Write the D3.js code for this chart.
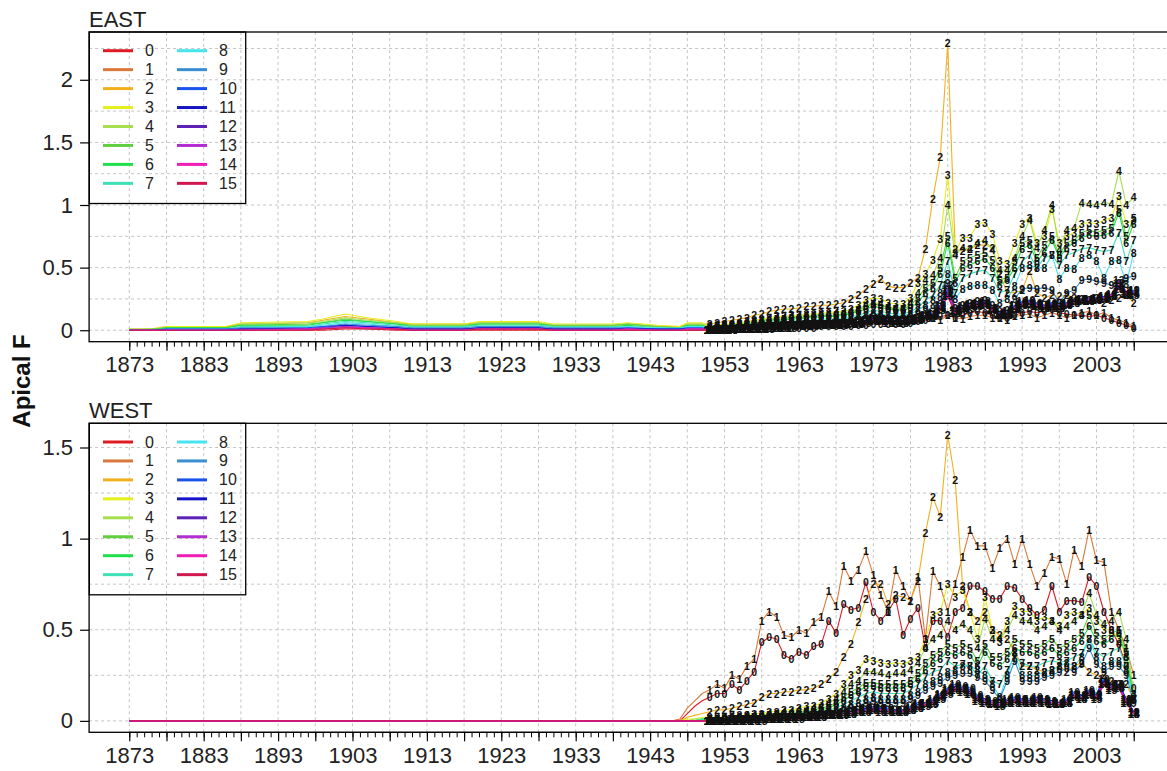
<!DOCTYPE html>
<html><head><meta charset="utf-8">
<script src="https://cdn.jsdelivr.net/npm/d3@7"></script>
<style>
body{margin:0;background:#fff}
svg{display:block}
text{font-family:"Liberation Sans",Arial,sans-serif}
</style>
</head><body>
<svg id="chart" width="1167" height="771"></svg>
<script>
const ages = ["0","1","2","3","4","5","6","7","8","9","10","11","12","13","14","15"];
const seriesColors = ["#e01a22","#d9783a","#f2b01e","#e4ef1c","#a6df4e","#62cf40","#1fe04a","#3ee0b6",
                      "#44e4f0","#3a8fd2","#1a52ee","#1414c6","#5e22b6","#b22ed2","#f01cb6","#d0184e"];
const xTickLabels = [1873,1883,1893,1903,1913,1923,1933,1943,1953,1963,1973,1983,1993,2003];
const eastYTicks = [0,0.5,1,1.5,2];
const westYTicks = [0,0.5,1,1.5];

const eastEarlyYears = [1873,1876,1878,1886,1888,1897,1899,1902,1905,1909,1911,1918,1920,1928,1930,1938,1940,1944,1947,1948,1950];
const eastEarly = [
 [0,0,0,0,0,0,0,0.01,0.01,0,0,0,0,0,0,0,0,0,0,0,0],
 [0,0,0,0,0.01,0.01,0.01,0.02,0.02,0.01,0.01,0.01,0.01,0.01,0.01,0.01,0.01,0.01,0,0.01,0.01],
 [0.01,0.01,0.03,0.03,0.05,0.06,0.08,0.11,0.09,0.06,0.05,0.05,0.06,0.06,0.04,0.04,0.05,0.03,0.03,0.05,0.05],
 [0.01,0.01,0.03,0.03,0.06,0.07,0.09,0.13,0.1,0.07,0.05,0.05,0.07,0.07,0.05,0.05,0.06,0.04,0.03,0.06,0.06],
 [0.01,0.01,0.02,0.02,0.05,0.06,0.07,0.1,0.08,0.06,0.04,0.04,0.06,0.06,0.04,0.04,0.05,0.03,0.02,0.05,0.05],
 [0,0.01,0.02,0.02,0.04,0.05,0.06,0.09,0.07,0.05,0.04,0.04,0.05,0.05,0.04,0.04,0.05,0.03,0.02,0.04,0.04],
 [0,0,0.02,0.02,0.04,0.04,0.06,0.08,0.07,0.05,0.03,0.03,0.05,0.05,0.03,0.03,0.04,0.02,0.02,0.04,0.04],
 [0,0,0.01,0.01,0.03,0.03,0.05,0.07,0.06,0.04,0.03,0.03,0.04,0.04,0.03,0.03,0.03,0.02,0.02,0.03,0.03],
 [0,0,0.01,0.01,0.02,0.03,0.04,0.06,0.05,0.03,0.02,0.02,0.03,0.03,0.02,0.02,0.03,0.02,0.01,0.03,0.03],
 [0,0,0.01,0.01,0.02,0.02,0.03,0.05,0.04,0.03,0.02,0.02,0.03,0.03,0.02,0.02,0.02,0.01,0.01,0.02,0.02],
 [0,0,0.01,0.01,0.01,0.02,0.03,0.04,0.03,0.02,0.01,0.01,0.02,0.02,0.01,0.01,0.02,0.01,0.01,0.02,0.02],
 [0,0,0,0,0.01,0.01,0.02,0.04,0.03,0.02,0.01,0.01,0.02,0.02,0.01,0.01,0.01,0.01,0.01,0.01,0.01],
 [0,0,0,0,0.01,0.01,0.02,0.03,0.02,0.01,0.01,0.01,0.01,0.01,0.01,0.01,0.01,0,0,0.01,0.01],
 [0,0,0,0,0,0.01,0.02,0.03,0.02,0.01,0,0,0.01,0.01,0,0,0.01,0,0,0.01,0.01],
 [0,0,0,0,0,0.01,0.01,0.02,0.02,0.01,0,0,0.01,0.01,0,0,0.01,0,0,0.01,0.01],
 [0,0,0,0,0,0,0.01,0.02,0.01,0.01,0,0,0.01,0.01,0,0,0,0,0,0,0]
];

const westEarlyYears = [1873,1946,1947,1948,1949,1950];
const westEarly = [
 [0,0,0,0.04,0.08,0.11],
 [0,0,0.01,0.07,0.11,0.15],
 [0,0,0,0.02,0.03,0.04],
 [0,0,0,0.01,0.01,0.02],
 [0,0,0,0,0.01,0.01],
 [0,0,0,0,0,0.01],
 [0,0,0,0,0,0.01],
 [0,0,0,0,0,0.01],
 [0,0,0,0,0,0],
 [0,0,0,0,0,0],
 [0,0,0,0,0,0],
 [0,0,0,0,0,0],
 [0,0,0,0,0,0],
 [0,0,0,0,0,0],
 [0,0,0,0,0,0],
 [0,0,0,0,0,0]
];

const lateYears = d3.range(1951, 2009);

const eastLate = [
 [0.0,0.0,0.01,0.01,0.01,0.01,0.01,0.01,0.02,0.02, 0.02,0.02,0.02,0.02,0.02,0.03,0.03,0.03,0.03,0.03, 0.04,0.04,0.05,0.05,0.05,0.05,0.05,0.06,0.07,0.08, 0.1,0.11,0.12,0.1,0.12,0.14,0.15,0.14,0.12,0.1, 0.1,0.12,0.14,0.15,0.14,0.15,0.17,0.14,0.13,0.12, 0.12,0.11,0.12,0.1,0.08,0.06,0.04,0.02],
 [0.01,0.01,0.02,0.02,0.02,0.03,0.03,0.03,0.04,0.04, 0.04,0.05,0.05,0.05,0.05,0.06,0.06,0.06,0.06,0.07, 0.07,0.08,0.09,0.09,0.08,0.08,0.08,0.09,0.1,0.12, 0.1,0.08,0.12,0.1,0.09,0.11,0.12,0.12,0.1,0.1, 0.08,0.11,0.12,0.13,0.1,0.12,0.14,0.12,0.1,0.12, 0.14,0.15,0.12,0.14,0.1,0.08,0.06,0.03],
 [0.05,0.06,0.07,0.08,0.09,0.1,0.12,0.13,0.15,0.16, 0.17,0.17,0.18,0.19,0.19,0.2,0.2,0.21,0.22,0.25, 0.28,0.33,0.37,0.41,0.35,0.34,0.34,0.38,0.42,0.65, 1.05,1.38,2.29,0.65,0.63,0.65,0.68,0.68,0.66,0.45, 0.3,0.3,0.32,0.47,0.3,0.26,0.28,0.27,0.28,0.26, 0.25,0.24,0.26,0.22,0.24,0.26,0.28,0.22],
 [0.03,0.04,0.05,0.05,0.06,0.07,0.08,0.09,0.1,0.11, 0.11,0.12,0.12,0.13,0.13,0.14,0.14,0.15,0.15,0.17, 0.2,0.24,0.26,0.25,0.22,0.21,0.21,0.26,0.38,0.45, 0.56,0.73,1.24,0.62,0.74,0.74,0.85,0.86,0.77,0.55, 0.53,0.7,0.85,0.9,0.7,0.75,0.97,0.7,0.75,0.78, 0.85,0.86,0.85,0.88,0.9,1.07,0.85,0.88],
 [0.03,0.04,0.04,0.05,0.05,0.06,0.07,0.08,0.09,0.1, 0.1,0.11,0.11,0.12,0.12,0.13,0.13,0.14,0.14,0.15, 0.17,0.2,0.22,0.21,0.19,0.18,0.18,0.22,0.3,0.4, 0.44,0.58,1.0,0.6,0.66,0.65,0.7,0.72,0.64,0.48, 0.48,0.58,0.75,0.88,0.66,0.8,1.0,0.64,0.8,0.82, 1.02,1.01,1.0,1.02,1.01,1.27,1.0,1.06],
 [0.02,0.03,0.04,0.04,0.05,0.05,0.06,0.07,0.08,0.09, 0.09,0.1,0.1,0.11,0.11,0.12,0.12,0.12,0.13,0.14, 0.16,0.19,0.21,0.2,0.18,0.17,0.17,0.2,0.26,0.34, 0.38,0.5,0.75,0.42,0.55,0.58,0.6,0.62,0.56,0.4, 0.42,0.55,0.7,0.72,0.58,0.68,0.75,0.6,0.7,0.72, 0.78,0.8,0.78,0.8,0.82,0.97,0.75,0.9],
 [0.02,0.03,0.03,0.04,0.04,0.05,0.06,0.06,0.07,0.08, 0.08,0.09,0.09,0.1,0.1,0.11,0.11,0.11,0.12,0.13, 0.15,0.17,0.19,0.18,0.17,0.16,0.16,0.18,0.22,0.3, 0.34,0.45,0.7,0.38,0.5,0.52,0.55,0.57,0.5,0.36, 0.4,0.5,0.65,0.68,0.55,0.62,0.72,0.58,0.66,0.7, 0.74,0.76,0.75,0.76,0.78,0.94,0.7,0.85],
 [0.02,0.02,0.03,0.03,0.04,0.04,0.05,0.05,0.06,0.07, 0.07,0.07,0.08,0.08,0.08,0.09,0.09,0.09,0.1,0.11, 0.12,0.14,0.16,0.15,0.14,0.13,0.13,0.15,0.18,0.24, 0.28,0.36,0.55,0.3,0.42,0.45,0.47,0.48,0.42,0.3, 0.32,0.45,0.55,0.6,0.5,0.58,0.6,0.52,0.6,0.62, 0.65,0.66,0.64,0.63,0.64,0.78,0.55,0.72],
 [0.01,0.02,0.02,0.03,0.03,0.04,0.04,0.05,0.05,0.06, 0.06,0.06,0.07,0.07,0.07,0.08,0.08,0.08,0.09,0.1, 0.11,0.12,0.14,0.13,0.12,0.12,0.12,0.13,0.16,0.2, 0.24,0.3,0.45,0.25,0.33,0.35,0.36,0.36,0.32,0.22, 0.25,0.35,0.5,0.52,0.5,0.5,0.6,0.41,0.5,0.49, 0.58,0.6,0.55,0.42,0.55,0.56,0.37,0.62],
 [0.01,0.01,0.02,0.02,0.03,0.03,0.03,0.04,0.04,0.05, 0.05,0.05,0.06,0.06,0.06,0.07,0.07,0.07,0.08,0.08, 0.09,0.1,0.12,0.11,0.1,0.1,0.1,0.11,0.13,0.16, 0.18,0.24,0.38,0.18,0.2,0.22,0.23,0.24,0.2,0.15, 0.16,0.25,0.33,0.34,0.33,0.34,0.32,0.22,0.3,0.32, 0.4,0.41,0.39,0.38,0.36,0.38,0.42,0.43],
 [0.0,0.01,0.01,0.01,0.02,0.02,0.02,0.03,0.03,0.03, 0.04,0.04,0.04,0.05,0.05,0.05,0.05,0.06,0.06,0.06, 0.07,0.08,0.1,0.09,0.08,0.08,0.08,0.09,0.1,0.12, 0.14,0.2,0.33,0.16,0.18,0.2,0.21,0.22,0.18,0.14, 0.15,0.2,0.23,0.24,0.22,0.2,0.22,0.2,0.22,0.24, 0.25,0.25,0.26,0.27,0.28,0.33,0.3,0.32],
 [0.0,0.0,0.01,0.01,0.01,0.02,0.02,0.02,0.03,0.03, 0.03,0.04,0.04,0.04,0.05,0.05,0.05,0.05,0.06,0.06, 0.06,0.08,0.09,0.09,0.08,0.07,0.08,0.08,0.1,0.12, 0.13,0.19,0.3,0.15,0.18,0.2,0.21,0.22,0.17,0.13, 0.14,0.19,0.22,0.22,0.21,0.19,0.21,0.19,0.21,0.23, 0.24,0.24,0.25,0.26,0.27,0.35,0.29,0.31],
 [0.0,0.0,0.0,0.01,0.01,0.01,0.02,0.02,0.02,0.03, 0.03,0.03,0.04,0.04,0.04,0.05,0.05,0.05,0.05,0.06, 0.06,0.07,0.09,0.08,0.08,0.07,0.07,0.08,0.09,0.11, 0.13,0.2,0.36,0.16,0.19,0.21,0.22,0.23,0.18,0.13, 0.14,0.19,0.22,0.23,0.21,0.2,0.21,0.2,0.22,0.24, 0.25,0.25,0.26,0.27,0.29,0.38,0.3,0.32],
 [0.0,0.0,0.0,0.01,0.01,0.01,0.01,0.02,0.02,0.02, 0.03,0.03,0.03,0.04,0.04,0.04,0.04,0.05,0.05,0.05, 0.06,0.07,0.08,0.08,0.07,0.07,0.07,0.08,0.09,0.11, 0.12,0.18,0.31,0.15,0.18,0.2,0.21,0.21,0.17,0.12, 0.13,0.18,0.21,0.22,0.2,0.19,0.2,0.19,0.21,0.23, 0.24,0.24,0.25,0.26,0.28,0.4,0.31,0.3],
 [0.0,0.0,0.0,0.0,0.01,0.01,0.01,0.01,0.02,0.02, 0.02,0.03,0.03,0.03,0.04,0.04,0.04,0.04,0.05,0.05, 0.05,0.07,0.08,0.07,0.07,0.06,0.06,0.07,0.08,0.1, 0.12,0.17,0.28,0.14,0.17,0.19,0.2,0.2,0.16,0.12, 0.12,0.17,0.2,0.21,0.19,0.18,0.19,0.18,0.2,0.22, 0.23,0.23,0.24,0.25,0.27,0.36,0.3,0.29],
 [0.0,0.0,0.0,0.0,0.01,0.01,0.01,0.01,0.01,0.02, 0.02,0.02,0.03,0.03,0.03,0.04,0.04,0.04,0.04,0.05, 0.05,0.06,0.07,0.07,0.06,0.06,0.06,0.07,0.08,0.1, 0.11,0.16,0.27,0.14,0.16,0.18,0.19,0.2,0.16,0.12, 0.12,0.17,0.2,0.21,0.19,0.18,0.19,0.18,0.2,0.22, 0.23,0.23,0.24,0.25,0.27,0.33,0.29,0.28]
];

const westLate = [
 [0.13,0.15,0.15,0.2,0.17,0.22,0.27,0.43,0.46,0.45, 0.36,0.34,0.38,0.36,0.41,0.42,0.55,0.48,0.64,0.61, 0.62,0.76,0.6,0.55,0.6,0.67,0.47,0.56,0.62,0.4, 0.55,0.55,0.46,0.6,0.62,0.74,0.74,0.71,0.67,0.67, 0.74,0.73,0.67,0.62,0.58,0.61,0.74,0.6,0.66,0.66, 0.65,0.79,0.74,0.6,0.5,0.42,0.3,0.18],
 [0.17,0.2,0.18,0.25,0.23,0.3,0.34,0.55,0.6,0.57, 0.47,0.46,0.5,0.48,0.54,0.57,0.71,0.63,0.85,0.77, 0.83,0.93,0.8,0.69,0.6,0.83,0.74,0.66,0.79,0.45, 0.82,0.74,0.6,0.75,0.9,1.05,0.96,0.96,0.84,0.95, 1.0,0.86,1.0,0.86,0.74,0.81,0.9,0.89,0.75,0.94, 0.85,1.05,0.88,0.87,0.6,0.5,0.4,0.25],
 [0.05,0.06,0.06,0.07,0.08,0.09,0.1,0.13,0.15,0.15, 0.16,0.16,0.17,0.17,0.18,0.2,0.23,0.27,0.35,0.42, 0.54,0.67,0.75,0.75,0.64,0.69,0.68,0.66,0.77,1.03, 1.23,1.12,1.57,1.32,0.74,0.6,0.55,0.6,0.5,0.47, 0.45,0.38,0.3,0.3,0.28,0.27,0.28,0.3,0.27,0.3, 0.32,0.27,0.25,0.25,0.22,0.2,0.2,0.12],
 [0.02,0.02,0.02,0.03,0.03,0.03,0.04,0.04,0.05,0.05, 0.06,0.06,0.07,0.08,0.08,0.1,0.12,0.15,0.2,0.25, 0.28,0.34,0.33,0.32,0.31,0.32,0.31,0.33,0.35,0.45, 0.58,0.6,0.75,0.68,0.72,0.6,0.45,0.68,0.5,0.43, 0.55,0.63,0.6,0.6,0.55,0.57,0.55,0.52,0.58,0.6, 0.58,0.62,0.55,0.5,0.5,0.45,0.35,0.15],
 [0.01,0.01,0.02,0.02,0.02,0.03,0.03,0.03,0.04,0.04, 0.05,0.05,0.06,0.06,0.07,0.08,0.1,0.12,0.16,0.2, 0.22,0.27,0.27,0.26,0.25,0.26,0.26,0.28,0.32,0.4, 0.45,0.47,0.55,0.5,0.53,0.5,0.4,0.56,0.45,0.45, 0.5,0.58,0.55,0.55,0.5,0.52,0.55,0.5,0.52,0.55, 0.58,0.7,0.58,0.53,0.55,0.6,0.45,0.15],
 [0.01,0.01,0.01,0.02,0.02,0.02,0.02,0.03,0.03,0.04, 0.04,0.04,0.05,0.05,0.06,0.07,0.08,0.1,0.13,0.16, 0.18,0.21,0.21,0.2,0.2,0.2,0.2,0.22,0.26,0.32, 0.36,0.38,0.42,0.4,0.42,0.4,0.33,0.42,0.35,0.35, 0.38,0.45,0.42,0.42,0.4,0.42,0.45,0.4,0.42,0.45, 0.48,0.58,0.48,0.45,0.48,0.5,0.38,0.12],
 [0.01,0.01,0.01,0.01,0.02,0.02,0.02,0.02,0.03,0.03, 0.03,0.04,0.04,0.05,0.05,0.06,0.07,0.09,0.11,0.14, 0.16,0.19,0.19,0.18,0.18,0.18,0.18,0.2,0.23,0.28, 0.32,0.34,0.38,0.36,0.38,0.36,0.3,0.38,0.32,0.3, 0.34,0.4,0.38,0.38,0.36,0.38,0.4,0.36,0.38,0.4, 0.44,0.52,0.44,0.42,0.45,0.48,0.35,0.12],
 [0.01,0.01,0.01,0.01,0.01,0.02,0.02,0.02,0.02,0.03, 0.03,0.03,0.03,0.04,0.04,0.05,0.06,0.07,0.09,0.11, 0.13,0.15,0.16,0.15,0.15,0.15,0.15,0.17,0.2,0.24, 0.27,0.28,0.33,0.3,0.31,0.3,0.25,0.3,0.22,0.2, 0.28,0.35,0.32,0.3,0.3,0.32,0.33,0.32,0.33,0.35, 0.37,0.45,0.38,0.35,0.38,0.4,0.3,0.12],
 [0.0,0.01,0.01,0.01,0.01,0.01,0.02,0.02,0.02,0.02, 0.03,0.03,0.03,0.03,0.04,0.04,0.05,0.06,0.07,0.09, 0.1,0.12,0.13,0.12,0.12,0.12,0.12,0.14,0.16,0.2, 0.22,0.24,0.27,0.28,0.3,0.3,0.28,0.25,0.2,0.13, 0.25,0.37,0.25,0.25,0.25,0.27,0.28,0.3,0.32,0.3, 0.35,0.45,0.35,0.3,0.33,0.33,0.28,0.12],
 [0.0,0.0,0.01,0.01,0.01,0.01,0.01,0.02,0.02,0.02, 0.02,0.02,0.03,0.03,0.03,0.04,0.04,0.05,0.06,0.07, 0.08,0.1,0.11,0.1,0.1,0.1,0.1,0.12,0.14,0.17, 0.19,0.21,0.24,0.25,0.26,0.26,0.24,0.22,0.17,0.12, 0.22,0.33,0.22,0.22,0.22,0.24,0.25,0.27,0.29,0.27, 0.31,0.4,0.31,0.27,0.3,0.3,0.25,0.1],
 [0.0,0.0,0.0,0.01,0.01,0.01,0.01,0.01,0.01,0.02, 0.02,0.02,0.02,0.02,0.03,0.03,0.04,0.04,0.05,0.06, 0.06,0.07,0.08,0.07,0.07,0.06,0.06,0.08,0.1,0.1, 0.12,0.15,0.18,0.2,0.19,0.18,0.14,0.12,0.11,0.1, 0.12,0.13,0.12,0.12,0.13,0.12,0.11,0.1,0.12,0.16, 0.14,0.17,0.15,0.23,0.2,0.2,0.12,0.05],
 [0.0,0.0,0.0,0.0,0.01,0.01,0.01,0.01,0.01,0.01, 0.02,0.02,0.02,0.02,0.03,0.03,0.03,0.04,0.05,0.05, 0.06,0.07,0.07,0.07,0.06,0.06,0.06,0.07,0.09,0.1, 0.11,0.14,0.17,0.19,0.18,0.17,0.13,0.12,0.1,0.1, 0.11,0.12,0.12,0.11,0.12,0.12,0.11,0.1,0.11,0.15, 0.14,0.16,0.14,0.22,0.19,0.2,0.12,0.05],
 [0.0,0.0,0.0,0.0,0.0,0.01,0.01,0.01,0.01,0.01, 0.02,0.02,0.02,0.02,0.02,0.03,0.03,0.04,0.04,0.05, 0.06,0.06,0.07,0.06,0.06,0.06,0.06,0.07,0.08,0.1, 0.11,0.14,0.17,0.18,0.18,0.16,0.13,0.11,0.1,0.09, 0.11,0.12,0.11,0.11,0.12,0.11,0.1,0.1,0.11,0.14, 0.13,0.16,0.14,0.21,0.19,0.19,0.11,0.05],
 [0.0,0.0,0.0,0.0,0.0,0.0,0.01,0.01,0.01,0.01, 0.01,0.02,0.02,0.02,0.02,0.03,0.03,0.03,0.04,0.05, 0.05,0.06,0.06,0.06,0.06,0.05,0.05,0.06,0.08,0.09, 0.1,0.13,0.16,0.18,0.17,0.16,0.12,0.11,0.1,0.09, 0.1,0.11,0.11,0.1,0.11,0.11,0.1,0.09,0.1,0.14, 0.13,0.15,0.13,0.21,0.18,0.19,0.11,0.04],
 [0.0,0.0,0.0,0.0,0.0,0.0,0.0,0.01,0.01,0.01, 0.01,0.01,0.02,0.02,0.02,0.02,0.03,0.03,0.04,0.04, 0.05,0.05,0.06,0.06,0.05,0.05,0.05,0.06,0.07,0.09, 0.1,0.13,0.16,0.17,0.17,0.15,0.12,0.1,0.09,0.09, 0.1,0.11,0.1,0.1,0.11,0.1,0.1,0.09,0.1,0.13, 0.12,0.15,0.13,0.2,0.18,0.18,0.1,0.04],
 [0.0,0.0,0.0,0.0,0.0,0.0,0.0,0.0,0.01,0.01, 0.01,0.01,0.01,0.02,0.02,0.02,0.03,0.03,0.03,0.04, 0.05,0.05,0.06,0.05,0.05,0.05,0.05,0.06,0.07,0.08, 0.09,0.12,0.15,0.17,0.16,0.15,0.11,0.1,0.09,0.08, 0.1,0.1,0.1,0.1,0.1,0.1,0.09,0.09,0.1,0.13, 0.12,0.14,0.12,0.2,0.17,0.18,0.1,0.04]
];

const svg = d3.select("#chart");
svg.append("rect").attr("width",1167).attr("height",771).attr("fill","#fff");

const xFirst = 1873, xLast = 2008;
const xPad = (xLast - xFirst) * 0.04;
const x = d3.scaleLinear().domain([xFirst - xPad, xLast + xPad]).range([89.1, 1173.9]);

function buildSeries(earlyYears, early, late) {
  return ages.map((a, i) => {
    const pts = earlyYears.map((yr, j) => [yr, early[i][j]]);
    const lp = lateYears.map((yr, j) => [yr, late[i][j]]);
    return {age: a, color: seriesColors[i], all: pts.concat(lp), marks: lp};
  });
}

function drawPanel(opt) {
  const series = buildSeries(opt.earlyYears, opt.early, opt.late);
  const allV = series.flatMap(s => s.all.map(d => d[1]));
  const vmin = d3.min(allV), vmax = d3.max(allV);
  const yPad = (vmax - vmin) * 0.04;
  const y = d3.scaleLinear().domain([vmin - yPad, vmax + yPad]).range([opt.bottom, opt.top]);
  const g = svg.append("g");

  const gridYears = d3.range(1873, 2009, 5);
  g.selectAll(null).data(gridYears).join("line")
    .attr("x1", d => x(d)).attr("x2", d => x(d))
    .attr("y1", opt.top).attr("y2", opt.bottom)
    .attr("stroke", "#c4c4c4").attr("stroke-width", 1).attr("stroke-dasharray", "3,3");
  g.selectAll(null).data(opt.gridY).join("line")
    .attr("x1", x.range()[0]).attr("x2", x.range()[1])
    .attr("y1", d => y(d)).attr("y2", d => y(d))
    .attr("stroke", "#c4c4c4").attr("stroke-width", 1).attr("stroke-dasharray", "3,3");

  const line = d3.line().x(d => x(d[0])).y(d => y(d[1]));
  const clipId = "clip" + opt.title;
  svg.append("clipPath").attr("id", clipId).append("rect")
    .attr("x", x.range()[0]).attr("y", opt.top)
    .attr("width", x.range()[1] - x.range()[0]).attr("height", opt.bottom - opt.top);
  const dg = g.append("g").attr("clip-path", `url(#${clipId})`);
  series.forEach(s => {
    dg.append("path").datum(s.all).attr("d", line)
      .attr("fill", "none").attr("stroke", s.color).attr("stroke-width", 1.1);
  });
  series.forEach(s => {
    dg.selectAll(null).data(s.marks).join("text")
      .attr("x", d => x(d[0])).attr("y", d => y(d[1]))
      .attr("text-anchor", "middle").attr("dominant-baseline", "central")
      .attr("font-size", 10.5).attr("font-weight", "bold").attr("fill", "#111")
      .text(s.age);
  });

  g.append("rect").attr("x", x.range()[0]).attr("y", opt.top)
    .attr("width", x.range()[1] - x.range()[0]).attr("height", opt.bottom - opt.top)
    .attr("fill", "none").attr("stroke", "#000").attr("stroke-width", 1.3);

  const yAxis = d3.axisLeft(y).tickValues(opt.yTicks).tickSize(9).tickPadding(7)
    .tickFormat(d => String(d));
  const ya = g.append("g").attr("transform", `translate(${x.range()[0]},0)`).call(yAxis);
  ya.select(".domain").remove();
  ya.selectAll("line").attr("stroke", "#000").attr("stroke-width", 1.2);
  ya.selectAll("text").attr("font-size", 22).attr("fill", "#222")
    .attr("font-family", "Liberation Sans, Arial, sans-serif");

  const minor = d3.axisBottom(x).tickValues(d3.range(1873, 2009, 1)).tickSize(5).tickFormat("");
  const xm = g.append("g").attr("transform", `translate(0,${opt.bottom})`).call(minor);
  xm.select(".domain").attr("d", `M${x(1873)},0H${x(2008)}`).attr("stroke", "#000");
  xm.selectAll("line").attr("stroke", "#000");
  const major = d3.axisBottom(x).tickValues(d3.range(1873, 2009, 5)).tickSize(9)
    .tickFormat("");
  const xM = g.append("g").attr("transform", `translate(0,${opt.bottom})`).call(major);
  xM.select(".domain").remove();
  xM.selectAll("line").attr("stroke", "#000").attr("stroke-width", 1.2);
  const lab = d3.axisBottom(x).tickValues(xTickLabels).tickSize(0).tickPadding(15)
    .tickFormat(d3.format("d"));
  const xl = g.append("g").attr("transform", `translate(0,${opt.bottom})`).call(lab);
  xl.select(".domain").remove();
  xl.selectAll("text").attr("font-size", 22).attr("fill", "#222")
    .attr("font-family", "Liberation Sans, Arial, sans-serif");

  g.append("text").attr("x", 89).attr("y", opt.top - 5)
    .attr("font-size", 22).attr("fill", "#222").text(opt.title);

  const lg = g.append("g");
  lg.append("rect").attr("x", 89.3).attr("y", opt.top).attr("width", 156.4).attr("height", 171.5)
    .attr("fill", "none").attr("stroke", "#000").attr("stroke-width", 1.3);
  series.forEach((s, i) => {
    const col = Math.floor(i / 8), row = i % 8;
    const ly = opt.top + 18.7 + row * 18.95;
    const lx = col === 0 ? 103 : 177;
    lg.append("line").attr("x1", lx).attr("x2", lx + 30).attr("y1", ly).attr("y2", ly)
      .attr("stroke", s.color).attr("stroke-width", 3);
    lg.append("text").attr("x", lx + 42).attr("y", ly).attr("dominant-baseline", "central")
      .attr("font-size", 16).attr("fill", "#222").text(s.age);
  });
}

drawPanel({title: "EAST", top: 32, bottom: 341.7, earlyYears: eastEarlyYears, early: eastEarly,
  late: eastLate, yTicks: eastYTicks, gridY: [0,0.25,0.5,0.75,1,1.25,1.5,1.75,2,2.25]});
drawPanel({title: "WEST", top: 423.3, bottom: 732.3, earlyYears: westEarlyYears, early: westEarly,
  late: westLate, yTicks: westYTicks, gridY: [0,0.25,0.5,0.75,1,1.25,1.5]});

svg.append("text").attr("transform", "translate(30,381) rotate(-90)")
  .attr("text-anchor", "middle").attr("font-size", 24).attr("font-weight", "bold")
  .attr("fill", "#111").text("Apical F");
</script>
</body></html>
